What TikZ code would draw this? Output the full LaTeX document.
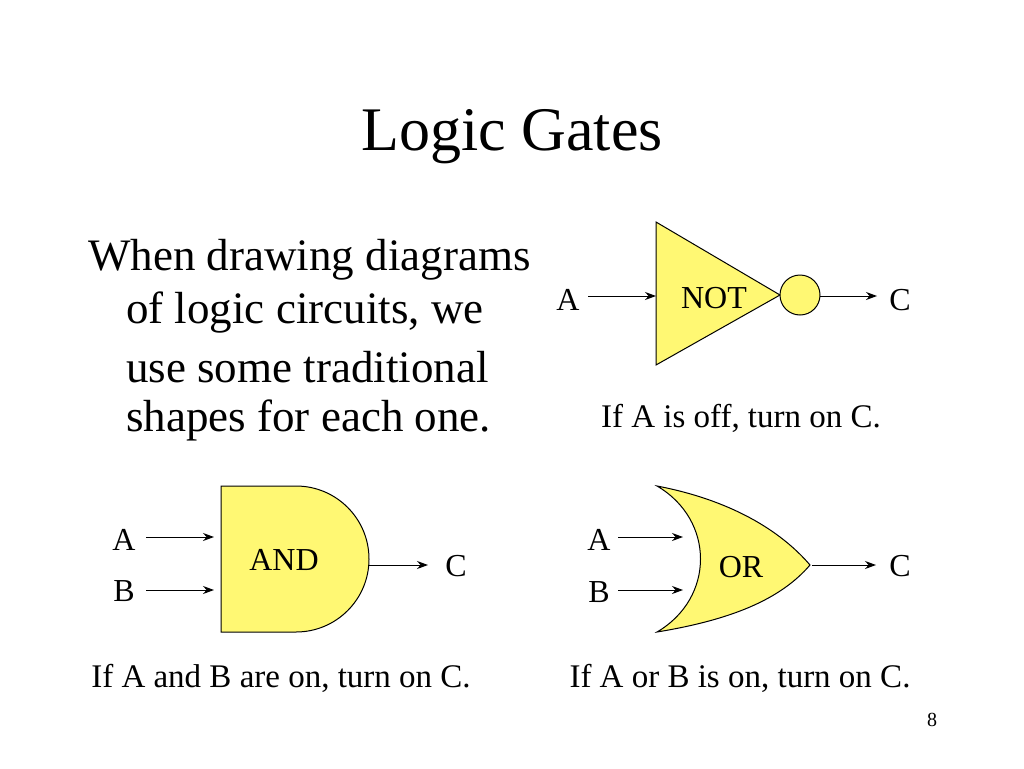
\documentclass[tikz,border=0pt]{standalone}
\usepackage{fontspec}
\setmainfont{Liberation Serif}
\usetikzlibrary{arrows.meta}
\begin{document}
\begin{tikzpicture}[x=1pt,y=-1pt,
  gate/.style={fill=yellow!55,draw=black,line width=1pt},
  wire/.style={-{Stealth[length=11pt,width=8pt]},line width=1pt},
  lbl/.style={font=\fontsize{32}{34}\selectfont,inner sep=0pt},
  capt/.style={font=\fontsize{33}{36}\selectfont,inner sep=0pt},
  body/.style={font=\fontsize{45}{48}\selectfont,inner sep=0pt,anchor=west}]
\useasboundingbox (0,0) rectangle (1024,768);
\node[font=\fontsize{62}{66}\selectfont] (title) at (512,137) {Logic Gates};
\node[body] (b1) at (88,260) {When drawing diagrams};
\node[body] (b2) at (126,313) {of logic circuits, we};
\node[body] (b3) at (126,367) {use some traditional};
\node[body] (b4) at (126,420) {shapes for each one.};
% NOT
\draw[gate] (656,222) -- (780,295) -- (656,365) -- cycle;
\draw[gate] (800,295) circle (20);
\node[lbl] (nt) at (714,298) {NOT};
\node[lbl] (na) at (568,300) {A};
\node[lbl] (nc) at (900,300) {C};
\coordinate (nai) at (588,296); \coordinate (nao) at (656,296);
\coordinate (nci) at (820,296); \coordinate (nco) at (877,296);
\draw[wire] (nai) -- (nao);
\draw[wire] (nci) -- (nco);
\node[capt] (ncap) at (741,418) {If A is off, turn on C.};
% AND
\draw[gate] (221,486) -- (296,486) arc[start angle=-90,end angle=90,radius=73] -- (221,632) -- cycle;
\node[lbl] (at) at (284,560) {AND};
\node[lbl] (aa) at (124,540) {A};
\node[lbl] (ab) at (124,591) {B};
\node[lbl] (ac) at (456,566) {C};
\coordinate (a1) at (146,537); \coordinate (a1e) at (214,537);
\coordinate (a2) at (146,590); \coordinate (a2e) at (214,590);
\coordinate (ao) at (369,565); \coordinate (aoe) at (428,565);
\draw[wire] (a1) -- (a1e);
\draw[wire] (a2) -- (a2e);
\draw[wire] (ao) -- (aoe);
\node[capt] (acap) at (281,678) {If A and B are on, turn on C.};
% OR
\draw[gate] (657,486) .. controls (715,520) and (715,598) .. (657,632)
  .. controls (730,620) and (780,600) .. (810,565)
  .. controls (780,530) and (730,500) .. (657,486) -- cycle;
\node[lbl] (ot) at (741,567) {OR};
\node[lbl] (oa) at (599,540) {A};
\node[lbl] (ob) at (599,592) {B};
\node[lbl] (oc) at (900,566) {C};
\coordinate (o1) at (618,537); \coordinate (o1e) at (683,537);
\coordinate (o2) at (618,590); \coordinate (o2e) at (683,590);
\coordinate (oo) at (812,565); \coordinate (ooe) at (876,565);
\draw[wire] (o1) -- (o1e);
\draw[wire] (o2) -- (o2e);
\draw[wire] (oo) -- (ooe);
\node[capt] (ocap) at (740,678) {If A or B is on, turn on C.};
\node[font=\fontsize{20}{22}\selectfont] (pg) at (932,720) {8};
\end{tikzpicture}
\end{document}
